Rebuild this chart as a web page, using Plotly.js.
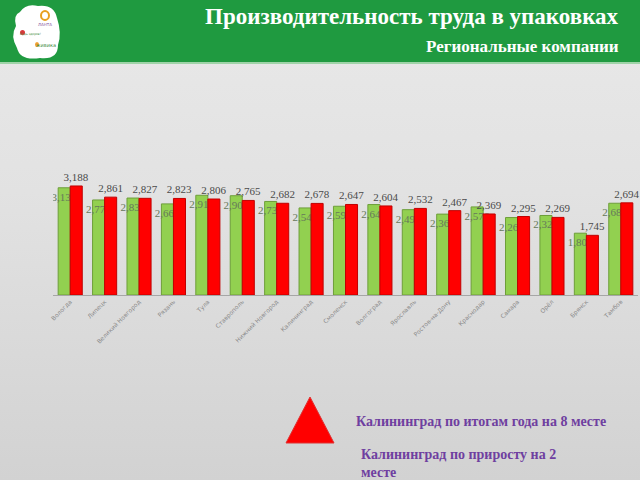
<!DOCTYPE html>
<html>
<head>
<meta charset="utf-8">
<script src="https://cdn.plot.ly/plotly-3.0.1.min.js"></script>
<style>
html,body{margin:0;padding:0;}
body{background:linear-gradient(to bottom,#e9e9e9 0%,#e2e2e2 40%,#d2d2d2 100%);}
#chart{width:640px;height:480px;}
</style>
</head>
<body>
<div id="chart"></div>
<script>
const categories = ["Вологда","Липецк","Великий Новгород","Рязань","Тула","Ставрополь","Нижний Новгород","Калининград","Смоленск","Волгоград","Ярославль","Ростов-на-Дону","Краснодар","Самара","Орёл","Брянск","Тамбов"];
const prevYear = [3.135,2.779,2.835,2.664,2.916,2.903,2.735,2.546,2.595,2.645,2.495,2.365,2.576,2.265,2.325,1.807,2.683];
const currYear = [3.188,2.861,2.827,2.823,2.806,2.765,2.682,2.678,2.647,2.604,2.532,2.467,2.369,2.295,2.269,1.745,2.694];
const titleText = "Производительность труда в упаковках";
const subtitleText = "Региональные компании";
const note1 = "Калининград по итогам года на 8 месте";
const note2 = "Калининград по приросту на 2<br>месте";

const W = 640, H = 480;
const px = x => x / W;
const py = y => 1 - y / H;

const fmt = v => v.toFixed(3).replace('.', ',');

const traces = [
  {type:'bar', x:categories, y:prevYear, name:'prev',
   marker:{color:'#92d050', line:{color:'#6e9e3a', width:1}},
   text:prevYear.map(fmt), textposition:'inside', insidetextanchor:'end', constraintext:'none', textangle:0,
   textfont:{family:'Liberation Serif', size:11, color:'#66785a'},
   hoverinfo:'none'},
  {type:'bar', x:categories, y:currYear, name:'curr',
   marker:{color:'#ff0000', line:{color:'#c00000', width:1}},
   text:currYear.map(fmt), textposition:'outside', cliponaxis:false, constraintext:'none', textangle:0,
   textfont:{family:'Liberation Serif', size:11, color:'#4a4a4a'},
   hoverinfo:'none'}
];

const annotations = [
  {xref:'paper', yref:'paper', x:px(621), y:py(17), xanchor:'right', yanchor:'middle', text:'<b>'+titleText+'</b>', showarrow:false,
   font:{family:'Liberation Serif', size:23, color:'#ffffff'}},
  {xref:'paper', yref:'paper', x:px(621), y:py(47), xanchor:'right', yanchor:'middle', text:'<b>'+subtitleText+'</b>', showarrow:false,
   font:{family:'Liberation Serif', size:17, color:'#ffffff'}},
  {xref:'paper', yref:'paper', x:px(354), y:py(421), xanchor:'left', yanchor:'middle', text:'<b>'+note1+'</b>', showarrow:false,
   font:{family:'Liberation Serif', size:14, color:'#6f3fa0'}},
  {xref:'paper', yref:'paper', x:px(359), y:py(463), xanchor:'left', yanchor:'middle', align:'left', text:'<b>'+note2+'</b>', showarrow:false,
   font:{family:'Liberation Serif', size:14, color:'#6f3fa0'}},
  {xref:'paper', yref:'paper', x:px(45), y:py(24), xanchor:'center', yanchor:'middle', text:'ЛАНТА', showarrow:false,
   font:{family:'DejaVu Sans', size:4, color:'#8a5aa0'}},
  {xref:'paper', yref:'paper', x:px(30), y:py(34), xanchor:'center', yanchor:'middle', text:'Будь здоров!', showarrow:false,
   font:{family:'DejaVu Sans', size:3, color:'#3a8a3a'}},
  {xref:'paper', yref:'paper', x:px(46), y:py(45), xanchor:'center', yanchor:'middle', text:'живика', showarrow:false,
   font:{family:'DejaVu Sans', size:5, color:'#3a8a3a'}}
];

const shapes = [
  {type:'rect', xref:'paper', yref:'paper', x0:0, x1:1, y0:py(62), y1:1, fillcolor:'#1f9a40', line:{width:0}, layer:'below'},
  {type:'rect', xref:'paper', yref:'paper', x0:0, x1:1, y0:py(64), y1:py(62), fillcolor:'#9fd3a8', line:{width:0}, layer:'below'},
  // logo cloud
  {type:'path', xref:'paper', yref:'paper', layer:'below', fillcolor:'#ffffff', line:{width:0},
   path:`M ${px(20)},${py(12)} Q ${px(26)},${py(3)} ${px(38)},${py(6)} Q ${px(54)},${py(4)} ${px(57)},${py(18)} Q ${px(62)},${py(33)} ${px(58)},${py(45)} Q ${px(58)},${py(60)} ${px(40)},${py(58)} Q ${px(20)},${py(61)} ${px(17)},${py(48)} Q ${px(10)},${py(36)} ${px(16)},${py(26)} Q ${px(13)},${py(15)} ${px(20)},${py(12)} Z`},
  {type:'circle', xref:'paper', yref:'paper', x0:px(41), x1:px(49), y0:py(20), y1:py(11), line:{color:'#e8a020', width:2}, fillcolor:'rgba(0,0,0,0)'},
  {type:'circle', xref:'paper', yref:'paper', x0:px(20), x1:px(25), y0:py(35), y1:py(30), fillcolor:'#d9383a', line:{width:0}},
  {type:'circle', xref:'paper', yref:'paper', x0:px(35), x1:px(39), y0:py(47), y1:py(42), fillcolor:'#f0a030', line:{width:0}},
  // red triangle
  {type:'path', xref:'paper', yref:'paper', fillcolor:'#ff0000', line:{color:'#e03030', width:1},
   path:`M ${px(310)},${py(397)} L ${px(334)},${py(443)} L ${px(286)},${py(443)} Z`}
];

const layout = {
  width:W, height:H,
  margin:{l:0, r:0, t:0, b:0},
  paper_bgcolor:'rgba(0,0,0,0)', plot_bgcolor:'rgba(0,0,0,0)',
  showlegend:false,
  barmode:'group', bargap:0.3, bargroupgap:0,
  separators:', ',
  xaxis:{domain:[px(53), px(638)], showline:true, linecolor:'#a6a6a6', linewidth:1,
    tickangle:-45, tickfont:{family:'DejaVu Sans', size:6, color:'#8a8a8a'}, ticks:'', showgrid:false, fixedrange:true},
  yaxis:{domain:[py(295), py(80)], range:[0, (295-80)/34.2], visible:false, showgrid:false, zeroline:false, fixedrange:true},
  annotations:annotations,
  shapes:shapes
};

Plotly.newPlot('chart', traces, layout, {staticPlot:true, displayModeBar:false});
</script>
</body>
</html>
